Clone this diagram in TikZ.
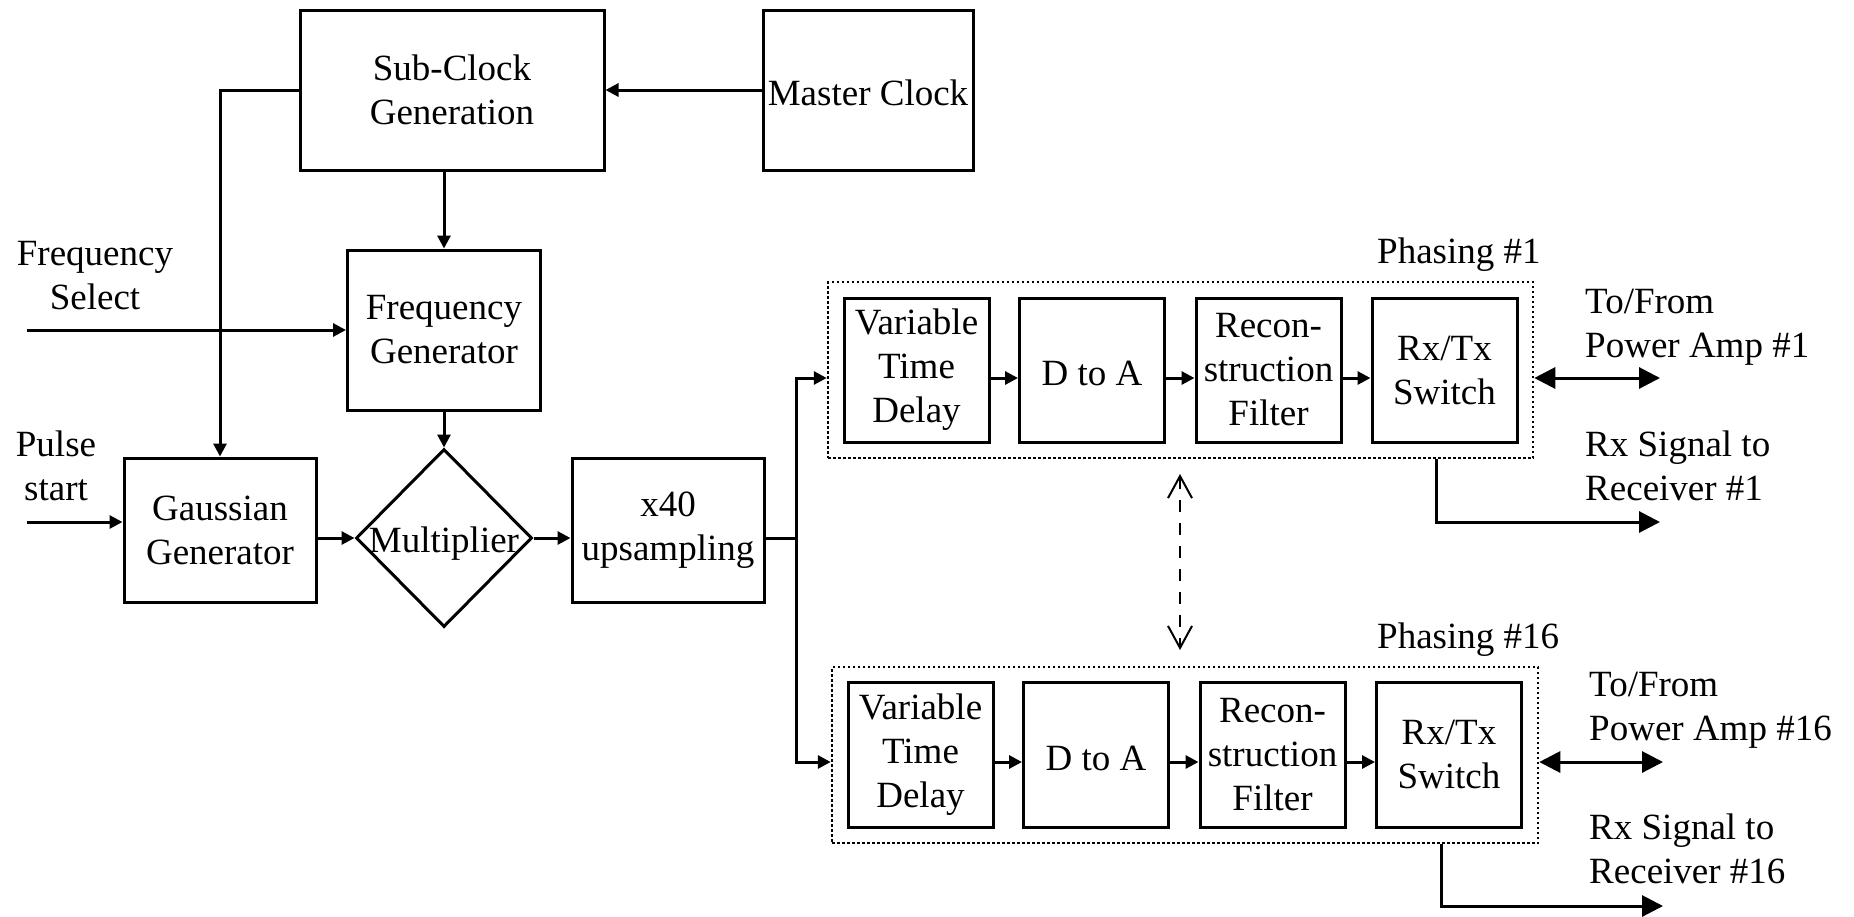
\documentclass[tikz,border=0pt]{standalone}
\usepackage{fontspec}
\setmainfont{Liberation Serif}
\usetikzlibrary{arrows.meta,shapes.geometric}
\begin{document}
\begin{tikzpicture}[x=1pt,y=-1pt,
  every node/.style={font=\fontsize{37}{44}\selectfont},
  blk/.style={draw, line width=3pt, inner sep=0pt, align=center, execute at begin node={\rule{0pt}{32pt}}},
  grp/.style={draw, line width=2.5pt, dash pattern=on 2.5pt off 2.5pt, inner sep=0pt},
  conn/.style={line width=3pt, -{Triangle[length=13pt,width=13pt]}},
  plain/.style={line width=3pt},
  big/.style={line width=3pt, -{Triangle[length=21pt,width=21pt]}},
  bigboth/.style={line width=3pt, {Triangle[length=21pt,width=21pt]}-{Triangle[length=21pt,width=21pt]}},
  dsh/.style={line width=2pt, dash pattern=on 12pt off 11pt, {Straight Barb[length=22pt,width=24pt]}-{Straight Barb[length=22pt,width=24pt]}},
  lbl/.style={inner sep=0pt}
]
\useasboundingbox (0,0) rectangle (1854,916);

% top blocks
\node[blk, minimum width=304pt, minimum height=160pt] (sub) at (452,90) {Sub-Clock\\Generation};
\node[blk, minimum width=210pt, minimum height=160pt] (master) at (868,90) {Master Clock};
\node[blk, minimum width=193pt, minimum height=160pt] (fg) at (444,330) {Frequency\\Generator};
\node[blk, minimum width=192pt, minimum height=144pt] (gauss) at (220,530) {Gaussian\\Generator};
\node[diamond, draw, line width=3pt, inner sep=0pt, minimum width=176pt, minimum height=178pt,
      label={[yshift=-6pt]center:Multiplier}] (mult) at (444,538) {};
\node[blk, minimum width=192pt, minimum height=144pt] (ups) at (668,530) {x40\\upsampling};

% phasing groups
\node[grp, minimum width=705pt, minimum height=176pt] (ph1) at (1180.5,370) {};
\node[blk, minimum width=145pt, minimum height=144pt] (vtd1) at (916.5,370) {Variable\\Time\\Delay};
\node[blk, minimum width=145pt, minimum height=144pt] (dta1) at (1092,370) {D to A};
\node[blk, minimum width=145pt, minimum height=144pt] (rec1) at (1268.5,370) {Recon-\\struction\\Filter};
\node[blk, minimum width=145pt, minimum height=144pt] (sw1) at (1444.5,370) {Rx/Tx\\Switch};

\node[grp, minimum width=706pt, minimum height=176pt] (ph16) at (1185,755) {};
\node[blk, minimum width=145pt, minimum height=145pt] (vtd16) at (920.5,754.5) {Variable\\Time\\Delay};
\node[blk, minimum width=145pt, minimum height=145pt] (dta16) at (1096,754.5) {D to A};
\node[blk, minimum width=145pt, minimum height=145pt] (rec16) at (1272.5,754.5) {Recon-\\struction\\Filter};
\node[blk, minimum width=145pt, minimum height=145pt] (sw16) at (1449,754.5) {Rx/Tx\\Switch};

% text labels
\node[lbl, align=center] (fsel) at (95,276) {Frequency\\Select};
\node[lbl, align=center] (pstart) at (56,466) {Pulse\\start};
\node[lbl, anchor=base west] (ph1lbl) at (1377,263) {Phasing \#1};
\node[lbl, anchor=base west] (ph16lbl) at (1377,648) {Phasing \#16};
\node[lbl, align=left, anchor=west] (tf1) at (1585,327) {To/From\\Power Amp \#1};
\node[lbl, align=left, anchor=west] (rx1) at (1585,466) {Rx Signal to\\Receiver \#1};
\node[lbl, align=left, anchor=west] (tf16) at (1589,710) {To/From\\Power Amp \#16};
\node[lbl, align=left, anchor=west] (rx16) at (1589,849) {Rx Signal to\\Receiver \#16};

% helper coordinates
\coordinate (fsin) at (27,330);
\coordinate (psin) at (27,522);
\coordinate (j) at (796,538);
\coordinate (row1) at (0,378);
\coordinate (row16) at (0,762);
\coordinate (pa1) at (1660,378);
\coordinate (pa16) at (1663,762);
\coordinate (rxx1) at (1436,0);
\coordinate (rxe1) at (1660,522);
\coordinate (rxx16) at (1441,0);
\coordinate (rxe16) at (1663,906);
\coordinate (d1) at (1180,474);
\coordinate (d2) at (1180,650);

% connectors
\draw[conn] (master.west) -- (sub.east);
\draw[conn] (sub.west) -| (gauss.north);
\draw[conn] (fg.north |- sub.south) -- (fg.north);
\draw[conn] (fsin) -- (fg.west);
\draw[conn] (fg.south) -- (mult.north);
\draw[conn] (psin) -- (psin -| gauss.west);
\draw[conn] (gauss.east |- mult.west) -- (mult.west);
\draw[conn] (mult.east) -- (mult.east -| ups.west);
\draw[plain] (ups.east |- j) -- (j);
\draw[conn] (j) |- (ph1.west |- row1);
\draw[conn] (j) |- (ph16.west |- row16);

\draw[conn] (vtd1.east |- row1) -- (dta1.west |- row1);
\draw[conn] (dta1.east |- row1) -- (rec1.west |- row1);
\draw[conn] (rec1.east |- row1) -- (sw1.west |- row1);
\draw[conn] (vtd16.east |- row16) -- (dta16.west |- row16);
\draw[conn] (dta16.east |- row16) -- (rec16.west |- row16);
\draw[conn] (rec16.east |- row16) -- (sw16.west |- row16);

\draw[bigboth] (ph1.east |- row1) -- (pa1);
\draw[bigboth] (ph16.east |- row16) -- (pa16);
\draw[big] (ph1.south -| rxx1) |- (rxe1);
\draw[big] (ph16.south -| rxx16) |- (rxe16);

\draw[dsh] (d1) -- (d2);
\end{tikzpicture}
\end{document}
